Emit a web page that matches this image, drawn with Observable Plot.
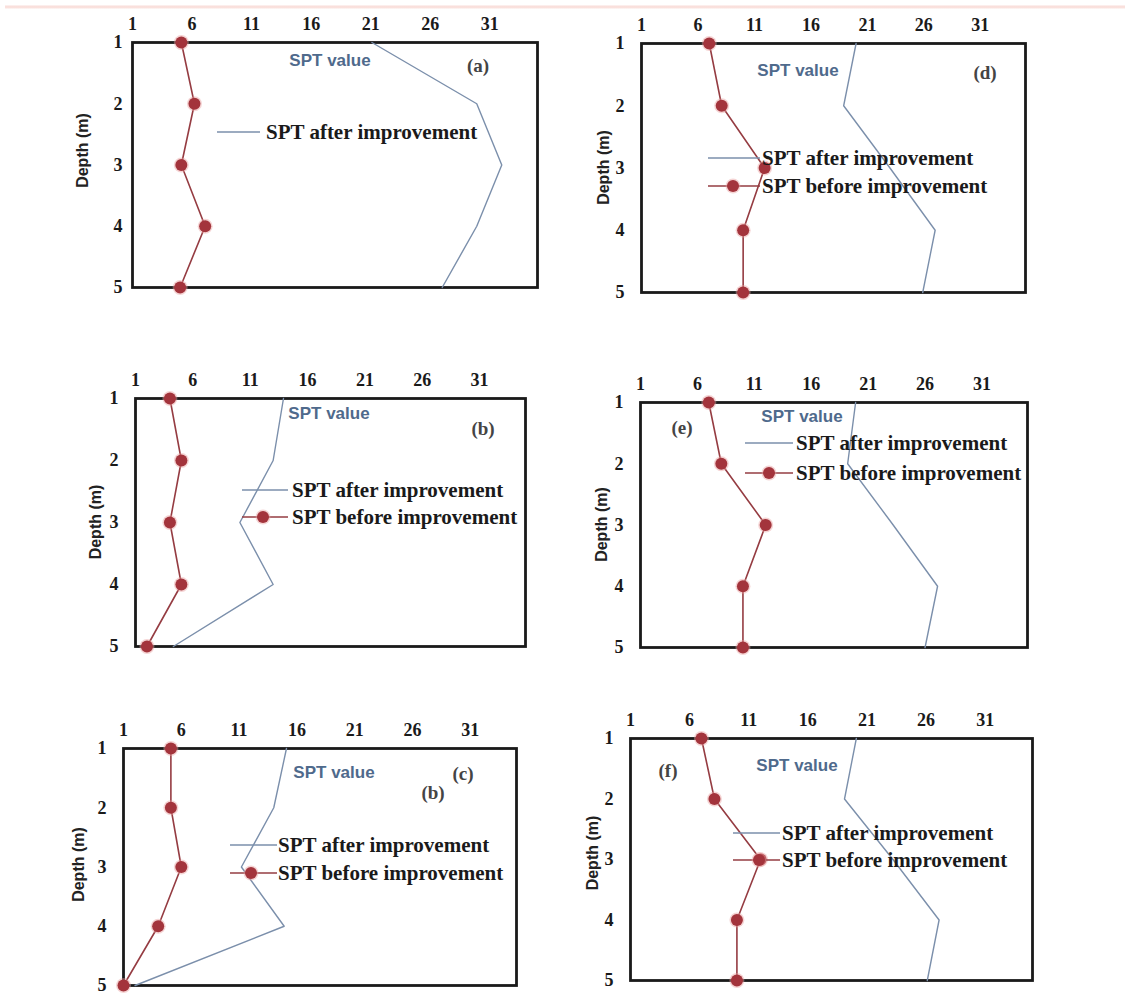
<!DOCTYPE html>
<html>
<head>
<meta charset="utf-8">
<script src="https://cdn.jsdelivr.net/npm/d3@7"></script>
<script src="https://cdn.jsdelivr.net/npm/@observablehq/plot@0.6"></script>
<style>
  html, body { margin: 0; padding: 0; background: #fff; }
  #root { position: relative; width: 1125px; height: 1007px; overflow: hidden; background: #fff; }
  .panel { position: absolute; }
  #topband { position: absolute; left: 5px; top: 5px; width: 1120px; height: 4px;
    background: linear-gradient(to bottom, rgba(245,190,180,0.15), rgba(240,170,160,0.45), rgba(245,200,190,0.1)); }
</style>
</head>
<body>
<div id="root"><div id="topband"></div></div>
<script>
// ---------- data ----------
const depths = [1, 2, 3, 4, 5];
const xTicks = [1, 6, 11, 16, 21, 26, 31];
const yTicks = [1, 2, 3, 4, 5];

const beforeA = [5.1, 6.2, 5.1, 7.1, 5.0];
const afterA  = [21.1, 29.9, 32.0, 29.9, 27.0];
const beforeB = [4.0, 5.0, 4.0, 5.0, 2.0];
const afterB  = [13.9, 13.0, 10.1, 13.0, 4.3];
const beforeC = [5.1, 5.1, 6.0, 4.0, 1.0];
const afterC  = [15.1, 14.0, 11.2, 14.9, 2.0];
const beforeD = [7.0, 8.1, 11.9, 10.0, 10.0];
const afterD  = [20.0, 18.9, 23.0, 27.0, 25.9];
const beforeE = [7.0, 8.1, 12.0, 10.0, 10.0];
const afterE  = [19.9, 19.2, 23.2, 27.1, 26.0];
const beforeF = [7.0, 8.1, 12.0, 10.0, 10.0];
const afterF  = [20.1, 19.1, 23.2, 27.1, 26.1];

const seriesNames = ["SPT after improvement", "SPT before improvement"];
const valueLabel = "SPT value";
const yLabel = "Depth (m)";

// ---------- layout (pixels) ----------
const panels = [
  {id: "(a)", before: beforeA, after: afterA, L: 132, T: 42, R: 537, B: 287, yPad: 10, yLab: 50, yLabShift: -14,
   val: [198, 18], tag: [346, 23], extra: null, lines: [85, 128, 134], rows: [90], markX: null},
  {id: "(b)", before: beforeB, after: afterB, L: 135, T: 398, R: 525, B: 646, yPad: 17, yLab: 40, yLabShift: 0,
   val: [194, 15], tag: [348, 30], extra: null, lines: [107, 153, 157], rows: [92, 119], markX: 128},
  {id: "(c)", before: beforeC, after: afterC, L: 123, T: 748, R: 516, B: 985, yPad: 17, yLab: 45, yLabShift: -2,
   val: [211, 24], tag: [340, 25], extra: ["(b)", 310, 44], lines: [107, 154, 155], rows: [97, 125], markX: 128},
  {id: "(d)", before: beforeD, after: afterD, L: 641, T: 43, R: 1025, B: 292, yPad: 17, yLab: 38, yLabShift: 0,
   val: [157, 27], tag: [344, 29], extra: null, lines: [67, 119, 121], rows: [115, 143], markX: 92},
  {id: "(e)", before: beforeE, after: afterE, L: 640, T: 402, R: 1027, B: 647, yPad: 17, yLab: 39, yLabShift: 0,
   val: [162, 14], tag: [42, 25], extra: null, lines: [105, 153, 156], rows: [41, 71], markX: 129},
  {id: "(f)", before: beforeF, after: afterF, L: 630, T: 738, R: 1032, B: 980, yPad: 17, yLab: 38, yLabShift: -6,
   val: [167, 27], tag: [38, 32], extra: null, lines: [103, 150, 152], rows: [95, 122], markX: 129}
];

const mL = 70, mT = 40, mR = 12, mB = 16;
const blue = "#7b8fab";
const redLine = "#953c42";
const redDot = "#a3343c";
const serif = "'Liberation Serif', 'Times New Roman', 'DejaVu Serif', serif";
const sans = "'Liberation Sans', Arial, 'DejaVu Sans', sans-serif";

const root = document.getElementById("root");

panels.forEach((p) => {
  const fw = p.R - p.L, fh = p.B - p.T;
  const rows = depths.map((d, i) => ({depth: d, before: p.before[i], after: p.after[i]}));

  const annotations = () => {
    const g = d3.create("svg:g");
    const ox = mL, oy = mT;
    g.append("text")
      .attr("transform", `translate(${ox - p.yLab},${oy + fh / 2 + p.yLabShift}) rotate(-90)`)
      .attr("text-anchor", "middle").attr("dy", "0.35em")
      .attr("font-family", sans).attr("font-size", 16).attr("font-weight", "bold")
      .attr("fill", "#222").text(yLabel);
    g.append("text").attr("x", ox + p.val[0]).attr("y", oy + p.val[1])
      .attr("text-anchor", "middle").attr("dy", "0.35em")
      .attr("font-family", sans).attr("font-size", 17).attr("font-weight", "bold")
      .attr("fill", "#4f6a8c").text(valueLabel);
    g.append("text").attr("x", ox + p.tag[0]).attr("y", oy + p.tag[1])
      .attr("text-anchor", "middle").attr("dy", "0.35em")
      .attr("font-family", serif).attr("font-size", 19).attr("font-weight", "bold")
      .attr("fill", "#444").text(p.id);
    if (p.extra) {
      g.append("text").attr("x", ox + p.extra[1]).attr("y", oy + p.extra[2])
        .attr("text-anchor", "middle").attr("dy", "0.35em")
        .attr("font-family", serif).attr("font-size", 19).attr("font-weight", "bold")
        .attr("fill", "#444").text(p.extra[0]);
    }
    p.rows.forEach((ry, k) => {
      const y = oy + ry;
      g.append("line").attr("x1", ox + p.lines[0]).attr("x2", ox + p.lines[1])
        .attr("y1", y).attr("y2", y)
        .attr("stroke", k === 0 ? blue : redLine).attr("stroke-width", k === 0 ? 1.3 : 1.6);
      if (k === 1) {
        g.append("circle").attr("cx", ox + p.markX).attr("cy", y).attr("r", 7.5)
          .attr("fill", "#e8a0a0").attr("fill-opacity", 0.45);
        g.append("circle").attr("cx", ox + p.markX).attr("cy", y).attr("r", 6)
          .attr("fill", redDot);
      }
      g.append("text").attr("x", ox + p.lines[2]).attr("y", y).attr("dy", "0.35em")
        .attr("text-anchor", "start")
        .attr("font-family", serif).attr("font-size", 21).attr("font-weight", "bold")
        .attr("fill", "#1a1a1a").text(seriesNames[k]);
    });
    return g.node();
  };

  const axisText = {fontFamily: serif, fontSize: 18, fontWeight: "bold", fill: "#1a1a1a"};

  const chart = Plot.plot({
    width: fw + mL + mR,
    height: fh + mT + mB,
    marginLeft: mL, marginTop: mT, marginRight: mR, marginBottom: mB,
    style: {fontFamily: serif, fontSize: "18px", fontWeight: "bold", color: "#1a1a1a", background: "transparent", overflow: "visible"},
    x: {domain: [1, 35]},
    y: {domain: [1, 5], reverse: true},
    marks: [
      Plot.axisX({anchor: "top", ticks: xTicks, tickSize: 0, tickPadding: 13, label: null, tickFormat: d => String(d), ...axisText}),
      Plot.axisY({anchor: "left", ticks: yTicks, tickSize: 0, tickPadding: p.yPad, label: null, tickFormat: d => String(d), ...axisText}),
      Plot.frame({stroke: "#1a1a1a", strokeWidth: 2.8}),
      Plot.line(rows, {x: "after", y: "depth", stroke: blue, strokeWidth: 1.4}),
      Plot.line(rows, {x: "before", y: "depth", stroke: redLine, strokeWidth: 1.6}),
      Plot.dot(rows, {x: "before", y: "depth", r: 7.5, fill: "#e8a0a0", fillOpacity: 0.45}),
      Plot.dot(rows, {x: "before", y: "depth", r: 6, fill: redDot}),
      annotations
    ]
  });
  const div = document.createElement("div");
  div.className = "panel";
  div.style.left = (p.L - mL) + "px";
  div.style.top = (p.T - mT) + "px";
  div.appendChild(chart);
  root.appendChild(div);
});
</script>
</body>
</html>
